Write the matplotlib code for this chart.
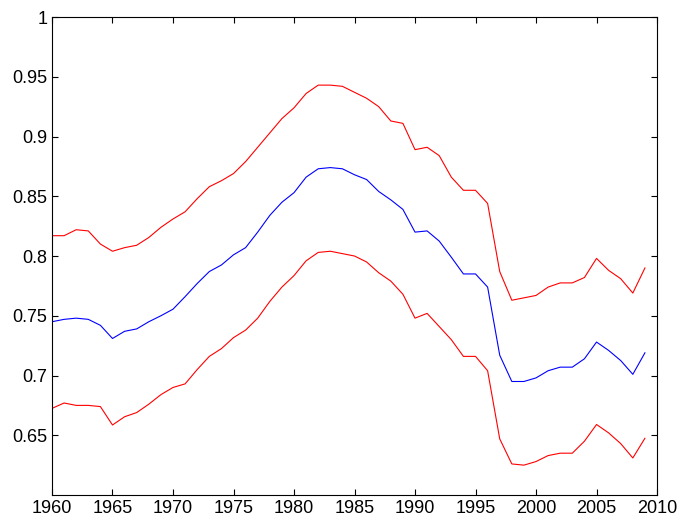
import numpy as np
import matplotlib.pyplot as plt

plt.rcParams['font.family'] = ['Liberation Sans', 'DejaVu Sans']

years = np.arange(1960, 2010)

upper = [0.817, 0.817, 0.822, 0.821, 0.810, 0.804, 0.807, 0.809, 0.8155, 0.824,
         0.831, 0.837, 0.848, 0.858, 0.863, 0.869, 0.879, 0.891, 0.903, 0.915,
         0.924, 0.936, 0.943, 0.943, 0.942, 0.937, 0.932, 0.925, 0.913, 0.911,
         0.889, 0.891, 0.884, 0.866, 0.855, 0.855, 0.844, 0.787, 0.763, 0.765,
         0.767, 0.774, 0.7775, 0.7775, 0.782, 0.798, 0.788, 0.781, 0.769, 0.790]

middle = [0.745, 0.747, 0.748, 0.747, 0.742, 0.731, 0.737, 0.739, 0.745, 0.750,
          0.7555, 0.766, 0.777, 0.787, 0.7925, 0.801, 0.807, 0.820, 0.834, 0.845,
          0.853, 0.866, 0.873, 0.874, 0.873, 0.868, 0.864, 0.854, 0.847, 0.839,
          0.820, 0.821, 0.8125, 0.799, 0.785, 0.785, 0.774, 0.717, 0.695, 0.695,
          0.698, 0.704, 0.707, 0.707, 0.714, 0.728, 0.721, 0.7125, 0.701, 0.719]

lower = [0.6725, 0.677, 0.675, 0.675, 0.674, 0.6586, 0.6655, 0.669, 0.676, 0.684,
         0.690, 0.693, 0.705, 0.716, 0.7225, 0.7317, 0.738, 0.748, 0.762, 0.774,
         0.7836, 0.796, 0.803, 0.804, 0.802, 0.800, 0.795, 0.786, 0.779, 0.768,
         0.748, 0.752, 0.741, 0.730, 0.716, 0.716, 0.704, 0.647, 0.626, 0.625,
         0.628, 0.633, 0.635, 0.635, 0.645, 0.659, 0.652, 0.643, 0.631, 0.6475]

fig = plt.figure(figsize=(6.77, 5.22), dpi=100)
ax = fig.add_axes([0.0768, 0.0517, 0.8937, 0.9157])

ax.plot(years, upper, color='red', lw=0.8)
ax.plot(years, middle, color='blue', lw=0.8)
ax.plot(years, lower, color='red', lw=0.8)

ax.set_xlim(1960, 2010)
ax.set_ylim(0.6, 1.0)
ax.set_xticks(np.arange(1960, 2011, 5))
ax.set_yticks([0.65, 0.7, 0.75, 0.8, 0.85, 0.9, 0.95, 1.0])
ax.set_yticklabels(['0.65', '0.7', '0.75', '0.8', '0.85', '0.9', '0.95', '1'])
ax.tick_params(direction='in', top=True, right=True, length=4, width=0.8, labelsize=13)
for s in ax.spines.values():
    s.set_linewidth(0.8)

fig.savefig('out.png', dpi=100)
